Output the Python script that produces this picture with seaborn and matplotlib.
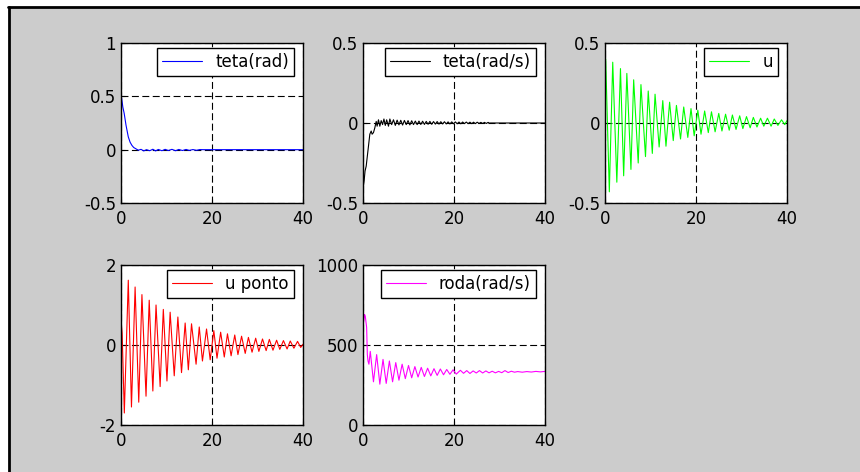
import matplotlib
matplotlib.use('Agg')
import matplotlib.pyplot as plt
import seaborn as sns
from matplotlib.patches import Rectangle
from matplotlib.lines import Line2D

# teta(rad)
teta_t = [0, 0.15, 0.4, 0.7, 1.1, 1.6, 2.0, 2.4, 2.8, 3.2, 3.8, 4.4, 5.0, 5.6, 6.3, 7.0, 7.6,
          8.2, 9.0, 9.7, 10.4, 11.2, 12.0, 12.7, 13.5, 14.3, 15.0, 15.8, 16.6, 17.3, 18.0, 40]
teta_v = [0.50, 0.48, 0.40, 0.34, 0.23, 0.12, 0.07, 0.04, 0.02, 0.01, -0.005, 0.003, -0.012,
          0.0, -0.01, 0.004, -0.012, 0.002, -0.01, 0.003, -0.008, 0.003, -0.01, 0.002, -0.008,
          0.002, -0.007, 0.001, -0.006, 0.001, 0.0, 0.0]

# teta(rad/s)
tetad_t = [0, 0.25, 0.45, 0.7, 0.9, 1.1, 1.3, 1.5, 1.8, 2.0, 2.3, 2.6, 2.9, 3.1, 3.4, 3.7, 4.0,
           4.3, 4.6, 4.9, 5.2, 5.6, 5.9, 6.3, 6.7, 7.1, 7.5, 7.9, 8.3, 8.7, 9.1, 9.5, 9.9, 10.3,
           10.7, 11.1, 11.5, 11.9, 12.3, 12.7, 13.1, 13.5, 13.9, 14.3, 14.7, 15.1, 15.5, 15.9,
           16.3, 16.7, 17.1, 17.5, 17.9, 18.3, 18.7, 19.1, 19.5, 19.9, 20.3, 20.7, 21.1, 21.5,
           21.9, 22.3, 22.7, 23.1, 23.5, 23.9, 24.3, 24.7, 25.1, 25.5, 25.9, 26.3, 26.7, 27.1,
           27.5, 27.9, 28.0, 40]
tetad_v = [-0.41, -0.36, -0.30, -0.27, -0.22, -0.17, -0.12, -0.07, -0.05, -0.07, -0.06, -0.03,
           0.01, -0.02, 0.02, -0.02, 0.015, -0.01, 0.025, -0.015, 0.02, -0.02, 0.025, -0.01,
           0.02, -0.015, 0.018, -0.012, 0.017, -0.013, 0.016, -0.01, 0.015, -0.012, 0.014,
           -0.01, 0.012, -0.01, 0.012, -0.009, 0.011, -0.009, 0.01, -0.008, 0.01, -0.008, 0.009,
           -0.007, 0.009, -0.007, 0.008, -0.006, 0.008, -0.006, 0.007, -0.006, 0.007, -0.005,
           0.007, -0.005, 0.006, -0.005, 0.006, -0.004, 0.006, -0.004, 0.005, -0.004, 0.005,
           -0.004, 0.005, -0.003, 0.004, -0.003, 0.004, -0.003, 0.004, -0.003, 0.0, 0.0]

# u
u_t = [0, 0.15, 0.95, 1.7, 2.6, 3.4, 4.1, 4.8, 5.7, 6.3, 7.3, 7.9, 8.9, 9.5, 10.4, 11.0, 11.9,
       12.7, 13.4, 14.2, 15.0, 15.7, 16.6, 17.3, 18.2, 18.9, 19.6, 20.4, 21.1, 21.9, 22.7, 23.4,
       24.2, 25.0, 25.7, 26.5, 27.3, 28.0, 28.8, 29.6, 30.3, 31.1, 31.9, 32.6, 33.4, 34.2, 34.9,
       35.7, 36.5, 37.2, 38.0, 38.8, 39.5, 40.0]
u_v = [0.25, 0.40, -0.43, 0.38, -0.37, 0.34, -0.33, 0.31, -0.29, 0.27, -0.25, 0.24, -0.21,
       0.20, -0.19, 0.18, -0.15, 0.14, -0.145, 0.13, -0.11, 0.11, -0.10, 0.10, -0.09, 0.09,
       -0.08, 0.08, -0.07, 0.075, -0.06, 0.07, -0.055, 0.06, -0.05, 0.055, -0.045, 0.05, -0.04,
       0.045, -0.035, 0.04, -0.03, 0.035, -0.025, 0.03, -0.02, 0.03, -0.02, 0.025, -0.015,
       0.02, -0.01, 0.015]

# u ponto
up_t = [0, 0.25, 0.73, 1.6, 2.3, 3.1, 3.9, 4.6, 5.5, 6.2, 7.0, 7.7, 8.6, 9.3, 10.1, 10.8, 11.7,
        12.5, 13.3, 14.1, 14.8, 15.5, 16.5, 17.2, 17.9, 18.8, 19.6, 20.4, 21.1, 21.9, 22.7, 23.4,
        24.2, 25.0, 25.7, 26.5, 27.3, 28.0, 28.8, 29.6, 30.3, 31.1, 31.9, 32.6, 33.4, 34.2, 34.9,
        35.7, 36.5, 37.2, 38.0, 38.8, 39.5, 40.0]
up_v = [0.60, 0.30, -1.70, 1.62, -1.55, 1.45, -1.43, 1.26, -1.28, 1.12, -1.15, 1.00, -1.04,
        0.89, -0.90, 0.82, -0.77, 0.70, -0.69, 0.55, -0.62, 0.53, -0.48, 0.45, -0.40, 0.40,
        -0.37, 0.36, -0.33, 0.32, -0.30, 0.28, -0.27, 0.25, -0.24, 0.22, -0.21, 0.19, -0.18,
        0.17, -0.16, 0.15, -0.14, 0.14, -0.13, 0.12, -0.11, 0.11, -0.10, 0.10, -0.08, 0.09,
        -0.06, 0.02]

# roda(rad/s)
roda_t = [0, 0.02, 0.15, 0.35, 0.5, 0.8, 0.95, 1.1, 1.3, 1.6, 2.3, 3.0, 3.7, 4.4, 5.1, 5.8,
          6.5, 7.2, 7.9, 8.6, 9.3, 10.0, 10.7, 11.4, 12.1, 12.8, 13.5, 14.2, 14.9, 15.6, 16.3,
          17.0, 17.7, 18.4, 19.1, 19.8, 20.5, 21.4, 22.1, 22.8, 23.5, 24.2, 24.9, 25.6, 26.3,
          27.0, 27.7, 28.4, 29.1, 29.8, 30.5, 31.2, 31.9, 32.6, 33.3, 34.0, 35.0, 36.0, 37.0,
          38.0, 39.0, 40.0]
roda_v = [0, 620, 650, 690, 680, 610, 440, 400, 380, 460, 270, 440, 255, 410, 260, 400, 270,
          390, 280, 380, 290, 372, 295, 365, 300, 360, 303, 355, 307, 352, 310, 350, 314, 347,
          317, 345, 318, 342, 323, 340, 322, 338, 325, 340, 325, 338, 326, 336, 326, 335, 327,
          340, 328, 336, 330, 334, 330, 334, 331, 335, 332, 335]

panels = [
    (teta_t, teta_v, 'teta(rad)', 'blue', [-0.5, 0, 0.5, 1], ['-0.5', '0', '0.5', '1']),
    (tetad_t, tetad_v, 'teta(rad/s)', 'black', [-0.5, 0, 0.5], ['-0.5', '0', '0.5']),
    (u_t, u_v, 'u', '#00ff00', [-0.5, 0, 0.5], ['-0.5', '0', '0.5']),
    (up_t, up_v, 'u ponto', 'red', [-2, 0, 2], ['-2', '0', '2']),
    (roda_t, roda_v, 'roda(rad/s)', 'magenta', [0, 500, 1000], ['0', '500', '1000']),
]

sns.set_style('ticks')
plt.rcParams['font.family'] = ['DejaVu Sans']
plt.rcParams['text.color'] = 'black'
plt.rcParams['lines.scale_dashes'] = False

W, H = 860, 472
fig = plt.figure(figsize=(8.6, 4.72), dpi=100, facecolor='white')
# grey figure area with black edge on top and left
fig.patches.append(Rectangle((9 / W, 0), 1, (H - 8) / H, transform=fig.transFigure,
                             facecolor='#cccccc', edgecolor='none', zorder=-10))
fig.lines.append(Line2D([9 / W, 9 / W], [0, (H - 7) / H], transform=fig.transFigure,
                        color='black', lw=2, zorder=-5))
fig.lines.append(Line2D([8 / W, 1], [(H - 7) / H, (H - 7) / H], transform=fig.transFigure,
                        color='black', lw=2, zorder=-5))

lefts = [121, 363, 605]
boxes = [(lefts[0], 43), (lefts[1], 43), (lefts[2], 43), (lefts[0], 265), (lefts[1], 265)]
aw, ah = 182, 160

for (x0, y0), (t, v, name, col, yt, ytl) in zip(boxes, panels):
    ax = fig.add_axes([x0 / W, (H - y0 - ah) / H, aw / W, ah / H])
    ax.set_facecolor('white')
    sns.lineplot(x=t, y=v, ax=ax, color=col, lw=0.8, sort=False, estimator=None, label=name)
    ax.set_xlim(0, 40)
    ax.set_ylim(yt[0], yt[-1])
    ax.set_xticks([0, 20, 40])
    ax.set_xticklabels(['0', '20', '40'])
    ax.set_yticks(yt)
    ax.set_yticklabels(ytl)
    ax.grid(True, color='black', lw=0.8, ls=(0, (5, 2.5)))
    ax.set_axisbelow(True)
    ax.tick_params(direction='in', length=3, width=0.8, labelsize=12, colors='black')
    ax.tick_params(axis='x', pad=5)
    ax.tick_params(axis='y', pad=3.5)
    for s in ax.spines.values():
        s.set_color('black')
        s.set_linewidth(1)
    leg = ax.legend(loc='upper right', bbox_to_anchor=(1 - 9 / aw, 1 - 5 / ah),
                    borderaxespad=0, fontsize=12, frameon=True, fancybox=False,
                    framealpha=1, edgecolor='black', handlelength=2.4,
                    handletextpad=0.8, borderpad=0.3, labelcolor='black')
    leg.get_frame().set_linewidth(1)

plt.savefig('out.png', dpi=100, facecolor=fig.get_facecolor())
